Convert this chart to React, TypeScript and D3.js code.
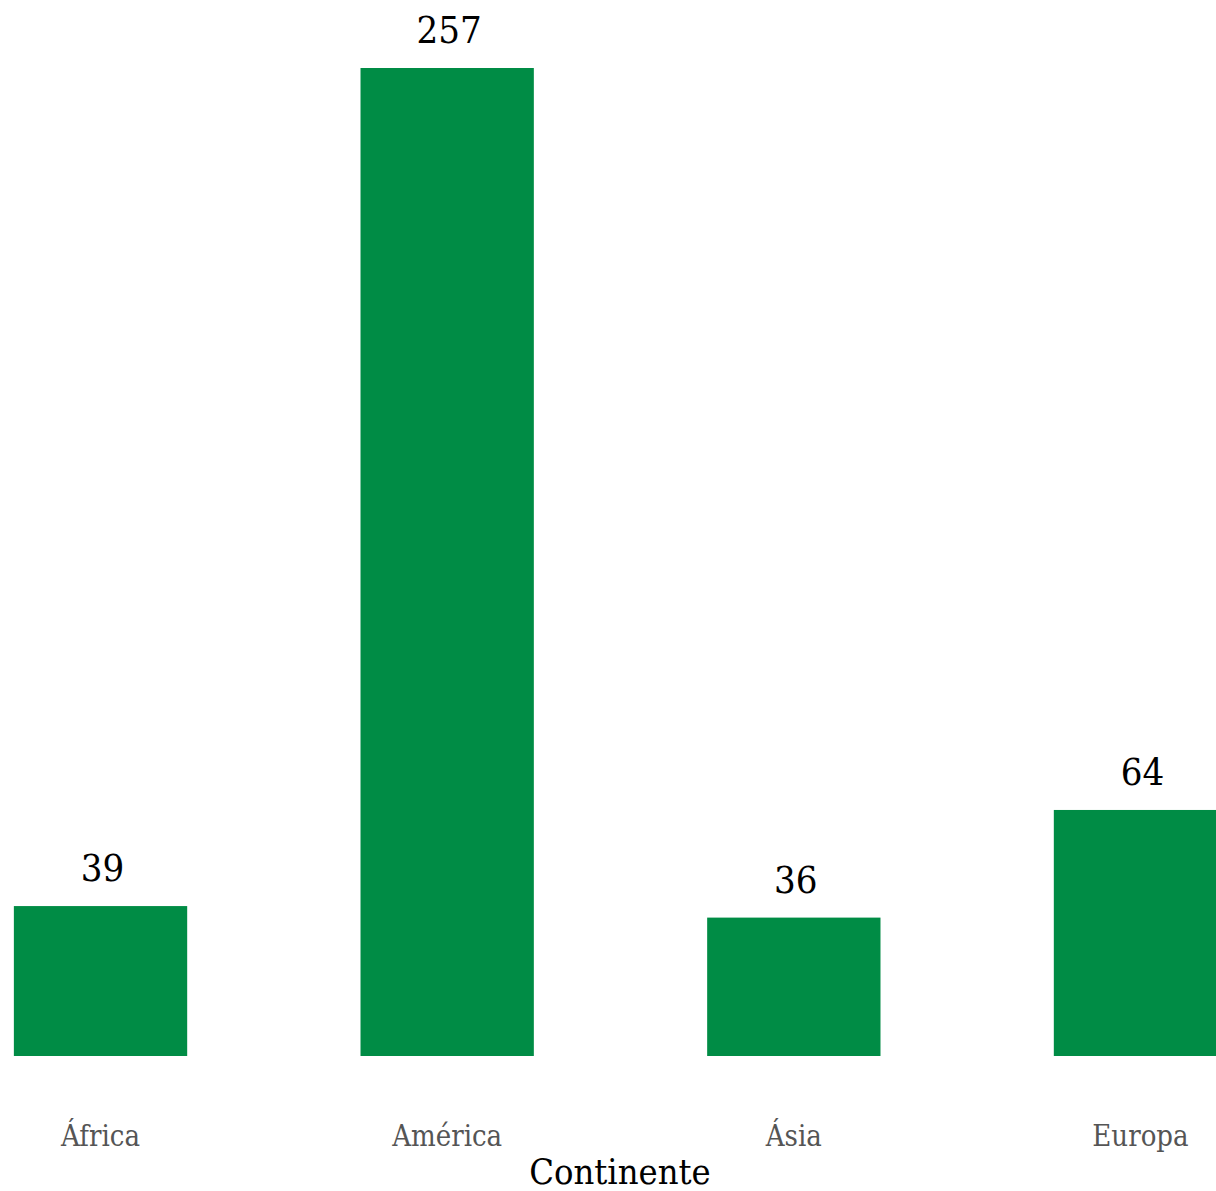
import React from "react";
import * as d3 from "d3";

const categories = ["África", "América", "Ásia", "Europa"];
const values = [39, 257, 36, 64];
const axisTitle = "Continente";

const W = 1216;
const H = 1191;

export default function App() {
  const x = d3
    .scaleBand<string>()
    .domain(categories)
    .range([-72.8, 1313.8])
    .paddingInner(0.5)
    .paddingOuter(0.25);
  const y = d3.scaleLinear().domain([0, 257]).range([1056, 68]);
  const numFont = "'DejaVu Serif Condensed', 'DejaVu Serif', serif";
  return (
    <svg
      width={W}
      height={H}
      style={{ position: "absolute", left: 0, top: 0, background: "#fff" }}
    >
      {categories.map((c, i) => (
        <g key={c}>
          <rect
            x={x(c)!}
            y={y(values[i])}
            width={x.bandwidth()}
            height={y(0) - y(values[i])}
            fill="#008C45"
          />
          <text
            x={x(c)! + x.bandwidth() / 2 + 2}
            y={y(values[i]) - 25}
            textAnchor="middle"
            fontFamily={numFont}
            fontSize={38}
            fill="#000"
          >
            {values[i]}
          </text>
          <text
            x={x(c)! + x.bandwidth() / 2}
            y={1146}
            textAnchor="middle"
            fontFamily={numFont}
            fontSize={29}
            fill="#555"
          >
            {c}
          </text>
        </g>
      ))}
      <text
        x={620}
        y={1184}
        textAnchor="middle"
        fontFamily={numFont}
        fontSize={36}
        fill="#000"
      >
        {axisTitle}
      </text>
    </svg>
  );
}
